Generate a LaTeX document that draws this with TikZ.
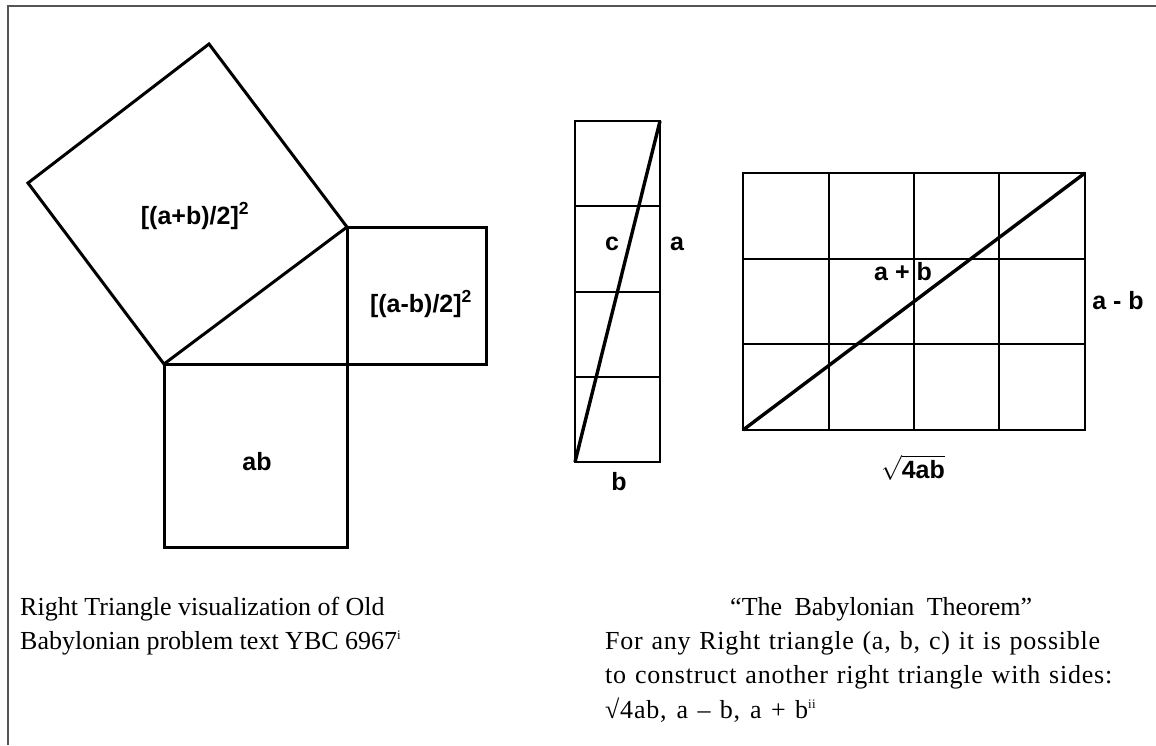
\documentclass[tikz,border=0pt]{standalone}
\usepackage{fontspec}
\setmainfont{Liberation Serif}
\setsansfont{Liberation Sans}
\definecolor{framegray}{HTML}{555555}
\newcommand{\fnmark}[1]{\raisebox{10pt}{\fontsize{13}{13}\selectfont #1}}
\begin{document}
\begin{tikzpicture}[x=1pt,y=-1pt,
  frameline/.style={draw=framegray, line width=1.8pt},
  sq/.style={draw=black, line width=3pt, line join=miter},
  gridline/.style={draw=black, line width=2.6pt},
  diag/.style={draw=black, line width=3.4pt},
  lbl/.style={font=\sffamily\bfseries\fontsize{25}{29}\selectfont, inner sep=0pt, anchor=base},
  captext/.style={font=\fontsize{26}{31}\selectfont, inner sep=0pt, anchor=base west},
  captextwide/.style={captext, font=\fontsize{26}{31}\selectfont\addfontfeature{LetterSpace=3}}]
\useasboundingbox (0,0) rectangle (1156,745);
\fill[white] (0,0) rectangle (1156,745);
% frame
\coordinate (f1) at (1156,6);
\coordinate (f2) at (8,6);
\coordinate (f3) at (8,745);
\draw[frameline] (f1) -- (f2) -- (f3);

% ---- left figure ----
\coordinate (T) at (209,44);
\coordinate (L) at (28,183);
\coordinate (B) at (164,364);
\coordinate (R) at (347,227);
\coordinate (C) at (347,364);
\coordinate (S2) at (486,364);
\coordinate (S3) at (347,547);
\draw[sq] (L) -- (T) -- (R) -- (B) -- cycle;
\draw[sq] (R) rectangle (S2);
\draw[sq] (B) rectangle (S3);
\node[lbl] (lab1) at (195,224) {[(a+b)/2]\textsuperscript{2}};
\node[lbl] (lab2) at (421,312) {[(a-b)/2]\textsuperscript{2}};
\node[lbl] (lab3) at (257,470) {ab};

% ---- middle figure ----
\coordinate (m1) at (575,121);
\coordinate (m2) at (660,462);
\coordinate (mtr) at (660,121);
\coordinate (mbl) at (575,462);
\draw[gridline] (m1) rectangle (m2);
\foreach \yy in {206,292,377} {\draw[gridline] (575,\yy) -- (660,\yy);}
\draw[diag] (mbl) -- (mtr);
\node[lbl] (lc) at (612,250) {c};
\node[lbl] (la) at (677,250) {a};
\node[lbl] (lb) at (619,490) {b};

% ---- right figure ----
\coordinate (r1) at (743,173);
\coordinate (r2) at (1085,430);
\coordinate (rtr) at (1085,173);
\coordinate (rbl) at (743,430);
\draw[gridline] (r1) rectangle (r2);
\foreach \xx in {829,914,999} {\draw[gridline] (\xx,173) -- (\xx,430);}
\foreach \yy in {259,344} {\draw[gridline] (743,\yy) -- (1085,\yy);}
\draw[diag] (rbl) -- (rtr);
\node[lbl] (lapb) at (903,280) {a + b};
\node[lbl] (lamb) at (1118,309) {a - b};
\node[lbl] (lsq) at (913,478) {$\sqrt{\mbox{\sffamily\bfseries 4ab}}$};

% ---- captions ----
\node[captext] (c1) at (20,615) {Right Triangle visualization of Old};
\node[captext] (c2) at (20,649) {Babylonian problem text YBC 6967\fnmark{i}};
\node[captext] (c3) at (730,615) {\makebox[302pt][s]{“The Babylonian Theorem”}};
\node[captextwide] (c4) at (605,649) {\makebox[495pt][s]{For any Right triangle (a, b, c) it is possible}};
\node[captextwide] (c5) at (605,683) {\makebox[507pt][s]{to construct another right triangle with sides:}};
\node[captextwide] (c6) at (605,718) {\makebox[203pt][s]{√4ab, a – b, a + b}\fnmark{ii}};
\end{tikzpicture}
\end{document}
